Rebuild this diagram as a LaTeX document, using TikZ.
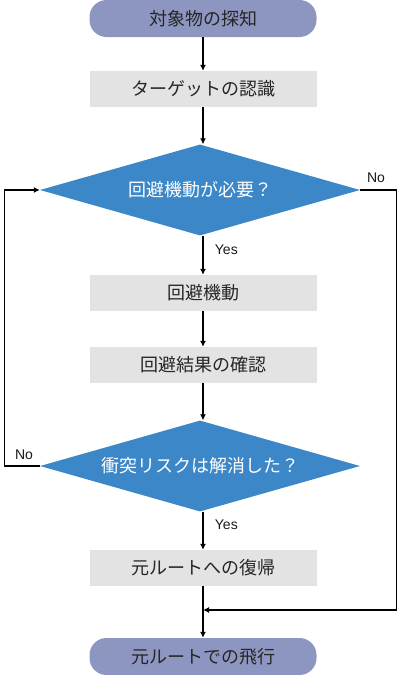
\documentclass[tikz,border=0pt]{standalone}
\usepackage{fontspec}
\setmainfont{Noto Sans CJK JP}
\newfontfamily\latinfont{Liberation Sans}
\usetikzlibrary{shapes.geometric,arrows.meta}

\definecolor{termfill}{HTML}{8D96C0}
\definecolor{boxfill}{HTML}{E3E3E3}
\definecolor{decfill}{HTML}{3B87C8}

\tikzset{
    flow term/.style={
      fill=termfill,
      rounded corners=17pt,
      minimum width=227pt,
      minimum height=37pt,
      inner sep=0pt,
      text=black!85,
      font=\fontsize{18}{20}\selectfont
    },
    flow box/.style={
      fill=boxfill,
      minimum width=227pt,
      minimum height=36pt,
      inner sep=0pt,
      text=black!85,
      font=\fontsize{18}{20}\selectfont
    },
    flow decision/.style={
      diamond,
      aspect=3.5,
      fill=decfill,
      minimum width=320pt,
      minimum height=91pt,
      inner sep=0pt,
      text=white,
      font=\fontsize{18}{20}\selectfont
    },
    flow arrow/.style={
      draw=black,
      line width=1.2pt,
      -{Latex[length=6pt,width=6pt]}
    },
    flow line/.style={
      draw=black,
      line width=1.2pt
    },
    flow label/.style={
      text=black!90,
      font=\latinfont\fontsize{14}{16}\selectfont
    }
  }

\begin{document}
\begin{tikzpicture}[x=1pt,y=-1pt]
      \useasboundingbox (0,0) rectangle (400,675);

      % ノード
      \node[flow term] (detect) at (203,18.5) {対象物の探知};
      \node[flow box] (target) at (203,89) {ターゲットの認識};
      \node[flow decision] (need) at (200,190) {回避機動が必要？};
      \node[flow box] (avoid) at (203,293) {回避機動};
      \node[flow box] (check) at (203,365) {回避結果の確認};
      \node[flow decision] (solved) at (200,466) {衝突リスクは解消した？};
      \node[flow box] (back) at (203,568) {元ルートへの復帰};
      \node[flow term] (fly) at (203,656.5) {元ルートでの飛行};
      \coordinate (join) at (203,610);

      % 矢印
      \draw[flow arrow] (detect) -- (target);
      \draw[flow arrow] (target) -- (need.north -| target.south);
      \draw[flow arrow] (need.south -| avoid.north) -- node[flow label, anchor=west, pos=0.35, xshift=8pt] {Yes} (avoid);
      \draw[flow arrow] (avoid) -- (check);
      \draw[flow arrow] (check) -- (solved.north -| check.south);
      \draw[flow arrow] (solved.south -| back.north) -- node[flow label, anchor=west, pos=0.35, xshift=8pt] {Yes} (back);
      \draw[flow line] (back) -- (join);
      \draw[flow arrow] (join) -- (fly);

      % 戻り線
      \draw[flow arrow] (need.east) -- ++(36,0) |- (join);
      \draw[flow arrow] (solved.west) -- ++(-35,0) |- (need.west);

      % ラベル
      \node[flow label] (noright) at (376,178) {No};
      \node[flow label] (noleft) at (24,455) {No};
    \end{tikzpicture}
\end{document}
